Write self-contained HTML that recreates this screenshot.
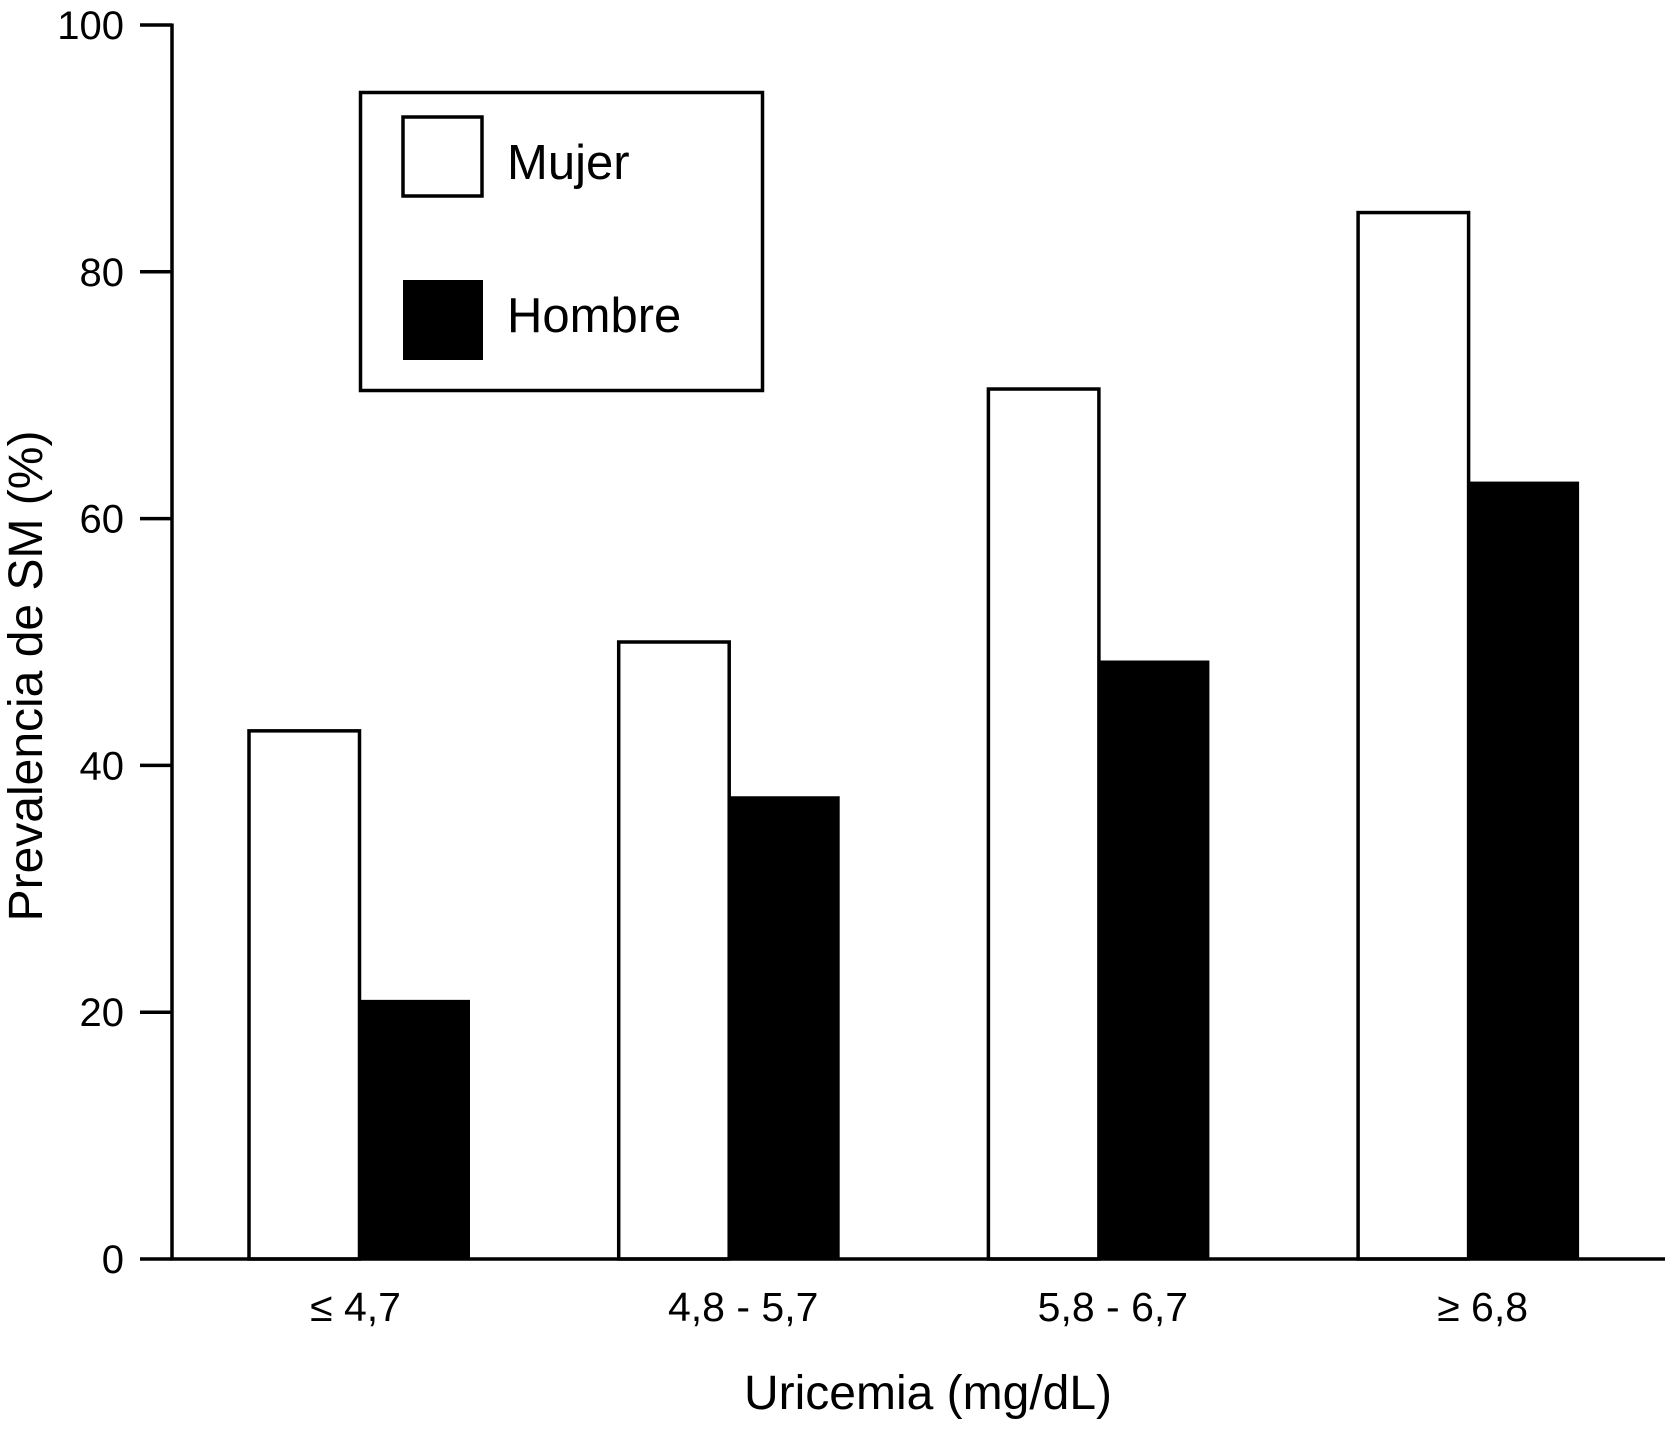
<!DOCTYPE html>
<html><head><meta charset="utf-8"><style>
html,body{margin:0;padding:0;background:#fff;}
svg{display:block;font-family:"Liberation Sans",Arial,sans-serif;}
</style></head><body>
<svg id="chart" width="1667" height="1431" viewBox="0 0 1667 1431" xmlns="http://www.w3.org/2000/svg">
<g id="bars"></g>
<g id="axes"></g>
<g>
<rect x="360.5" y="92.5" width="402" height="298" fill="#fff" stroke="#000" stroke-width="3.5"/>
<rect x="403" y="117" width="79" height="79" fill="#fff" stroke="#000" stroke-width="3.5"/>
<text x="507" y="179" font-size="49">Mujer</text>
<rect x="403" y="280" width="80" height="80" fill="#000"/>
<text x="507" y="332" font-size="49">Hombre</text>
</g>
<text transform="translate(42,676) rotate(-90)" text-anchor="middle" font-size="48">Prevalencia de SM (%)</text>
<text x="928" y="1409" text-anchor="middle" font-size="48">Uricemia (mg/dL)</text>
</svg>
<script>
const categories = ["≤ 4,7", "4,8 - 5,7", "5,8 - 6,7", "≥ 6,8"];
const mujer = [42.8, 50, 70.5, 84.8];
const hombre = [21, 37.5, 48.5, 63];
const yTicks = [0, 20, 40, 60, 80, 100];

const NS = "http://www.w3.org/2000/svg";
const x0 = 172, x1 = 1665, yTop = 25, yBot = 1259;
const barW = 110.5, groupStart = 249, groupStep = 369.7;
function yScale(v){ return yBot - (v/100)*(yBot - yTop); }
function groupX(i){ return groupStart + i*groupStep; }
function mk(tag, attrs, parent){ const e=document.createElementNS(NS,tag); for(const k in attrs) e.setAttribute(k,attrs[k]); parent.appendChild(e); return e; }

const bars = document.getElementById('bars');
categories.forEach((c,i)=>{
  const gx = groupX(i);
  const ym = yScale(mujer[i]);
  const r1 = mk('rect',{x:gx, y:ym, width:barW, height:yBot-ym, fill:'#fff', stroke:'#000', 'stroke-width':3.5}, bars);
  
  
  const yh = yScale(hombre[i]);
  const r2 = mk('rect',{x:gx+barW, y:yh, width:barW, height:yBot-yh, fill:'#000'}, bars);
  
  
});

const axes = document.getElementById('axes');
const ya = mk('line',{x1:x0, y1:yTop-1.5, x2:x0, y2:yBot+1.5, stroke:'#000','stroke-width':3.5}, axes);


const xa = mk('line',{x1:x0-1.5, y1:yBot, x2:x1, y2:yBot, stroke:'#000','stroke-width':3.5}, axes);


yTicks.forEach(t=>{
  const y = yScale(t);
  const tk = mk('line',{x1:140, y1:y, x2:x0, y2:y, stroke:'#000','stroke-width':3.5}, axes);
  
  
  const tl = mk('text',{x:124, y:y+14, 'text-anchor':'end','font-size':40}, axes);
  tl.textContent = t;
  
  
});
const labelShift = [-4, 14, 14, 14];
categories.forEach((c,i)=>{
  const t = mk('text',{x:groupX(i)+barW+labelShift[i], y:1321, 'text-anchor':'middle','font-size':41}, axes);
  t.textContent = c;
  
  
});
</script>
</body></html>
